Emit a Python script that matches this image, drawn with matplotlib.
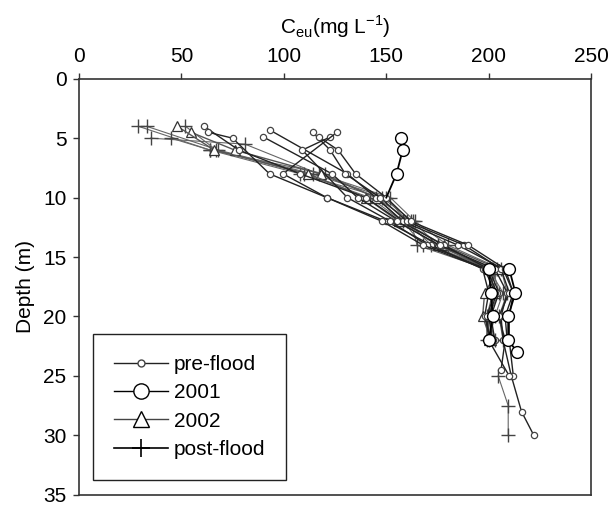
import matplotlib
matplotlib.use("Agg")
import matplotlib.pyplot as plt

# Depth profiles of C_eu (mg/L), one sub-list per sampling profile
pre_depth = [
    [4, 6, 8, 10, 12, 14, 16, 18, 20, 22],
    [4.5, 5, 8, 10, 12, 14, 16, 18, 20, 22],
    [4.3, 8, 10, 12, 14, 16, 18, 20, 22],
    [4.9, 8, 10, 12, 14, 16, 18, 20, 22, 25, 28, 30],
    [4.5, 6, 8, 10, 12, 14, 16, 18, 20, 22, 24.5],
    [4.9, 6, 8, 10, 12, 14, 16, 18, 20, 22, 25],
    [4.9, 6, 10, 12, 14, 16, 18, 20, 22],
    [4.5, 8, 10, 12, 14, 16, 18, 20, 22, 25],
]
pre_ceu = [
    [61, 78, 108, 140, 157, 178, 200, 205, 201, 203],
    [63, 75, 93, 121, 150, 172, 197, 200, 198, 201],
    [93, 131, 145, 158, 185, 207, 212, 208, 209],
    [90, 123.5, 136, 155, 176, 203, 209, 206, 207, 211, 216, 222],
    [114, 122.6, 130, 147, 160, 188, 206, 210, 205, 208, 206],
    [117, 126.5, 135, 150, 162, 190, 208, 212, 210, 210, 212],
    [122.6, 109, 131, 152, 170, 199, 204, 200, 202],
    [126, 99.6, 121, 148, 168, 198, 203, 199, 200, 210],
]

y2001_depth = [
    [5, 6, 8, 10],
    [16, 18, 20, 22],
    [16, 18, 20, 22, 23],
]
y2001_ceu = [
    [157, 158, 155, 150],
    [200, 201, 202, 200],
    [210, 213, 209.5, 209.5, 214],
]

y2002_depth = [
    [4.5, 6, 8, 10, 12, 14, 16, 18, 20, 22],
    [4, 6, 8, 10, 12, 14, 16, 18, 20, 22],
]
y2002_ceu = [
    [54.6, 76, 118, 145, 158, 178, 205, 198, 197, 201],
    [48, 66, 112, 140, 156, 175, 200, 203, 200, 200],
]

post_depth = [
    [4, 6, 8, 10, 12, 14, 16, 18, 20, 22],
    [4, 6, 8, 10, 12, 14, 16, 18, 20, 22],
    [5, 5.5, 8, 10, 12, 14, 16, 18, 20, 22],
    [5, 6, 8, 10, 12, 14, 16],
    [4, 6, 8, 10, 12, 14, 16, 18, 20, 22],
    [25, 27.5, 30],
]
post_ceu = [
    [29, 64, 108, 148, 163, 175, 202, 205, 200, 203],
    [33, 68, 114, 150, 160, 172, 200, 207, 203, 200],
    [35, 81, 117, 152, 164, 180, 206, 209, 205, 207],
    [45, 64, 120, 145, 162, 165, 199],
    [52, 67, 110, 142, 158, 168, 204, 202, 199, 199],
    [204.6, 209.5, 209.5],
]

plt.rcParams["font.family"] = ["Liberation Sans", "DejaVu Sans"]
plt.rcParams["font.size"] = 15

fig = plt.figure(figsize=(6.12, 5.08), dpi=100)
ax = fig.add_axes([0.129, 0.026, 0.837, 0.819])

# post-flood: thin grey lines with crosses
for d, c in zip(post_depth, post_ceu):
    ax.plot(c, d, color="#666666", lw=0.8, marker="+", ms=10, mew=1.0,
            mec="#444444", zorder=2)

# 2002: grey lines with open triangles
for d, c in zip(y2002_depth, y2002_ceu):
    ax.plot(c, d, color="#555555", lw=1.0, marker="^", ms=7, mfc="white",
            mec="#333333", mew=0.9, zorder=3)

# pre-flood: dark lines with small circles
for d, c in zip(pre_depth, pre_ceu):
    ax.plot(c, d, color="#222222", lw=1.0, marker="o", ms=4.5, mfc="white",
            mec="#444444", mew=0.9, zorder=4)

# 2001: black lines with large open circles (last point of the top profile
# joins the bundle and carries no marker)
for i, (d, c) in enumerate(zip(y2001_depth, y2001_ceu)):
    every = [0, 1, 2] if i == 0 else None
    ax.plot(c, d, color="black", lw=1.3, marker="o", ms=8.5, mfc="white",
            mec="black", mew=1.0, markevery=every, zorder=5)

ax.set_xlim(0, 250)
ax.set_ylim(35, 0)
ax.set_xticks([0, 50, 100, 150, 200, 250])
ax.set_yticks([0, 5, 10, 15, 20, 25, 30, 35])
ax.xaxis.tick_top()
ax.xaxis.set_label_position("top")
ax.set_xlabel("C$_\\mathregular{eu}$(mg L$^{\\mathregular{-1}}$)", labelpad=10)
ax.set_ylabel("Depth (m)", labelpad=6)
ax.tick_params(direction="out", length=4, width=1, color="#333333", pad=5)
for s in ax.spines.values():
    s.set_linewidth(1.2)
    s.set_color("#333333")

# legend proxies
h1, = ax.plot([], [], color="#222222", lw=1.0, marker="o", ms=5,
              mfc="white", mec="#444444")
h2, = ax.plot([], [], color="black", lw=1.0, marker="o", ms=11,
              mfc="white", mec="black")
h3, = ax.plot([], [], color="#444444", lw=1.0, marker="^", ms=11,
              mfc="white", mec="black")
h4, = ax.plot([], [], color="black", lw=1.2, marker="+", ms=13, mew=1.2)
leg = ax.legend([h1, h2, h3, h4], ["pre-flood", "2001", "2002", "post-flood"],
                loc="lower left", bbox_to_anchor=(0.027, 0.036),
                borderaxespad=0, fancybox=False, framealpha=1,
                edgecolor="#222222", borderpad=1.0, labelspacing=0.45,
                handlelength=2.6, handletextpad=0.3, fontsize=15)
leg.get_frame().set_linewidth(1.0)

fig.savefig("out.png", dpi=100)
